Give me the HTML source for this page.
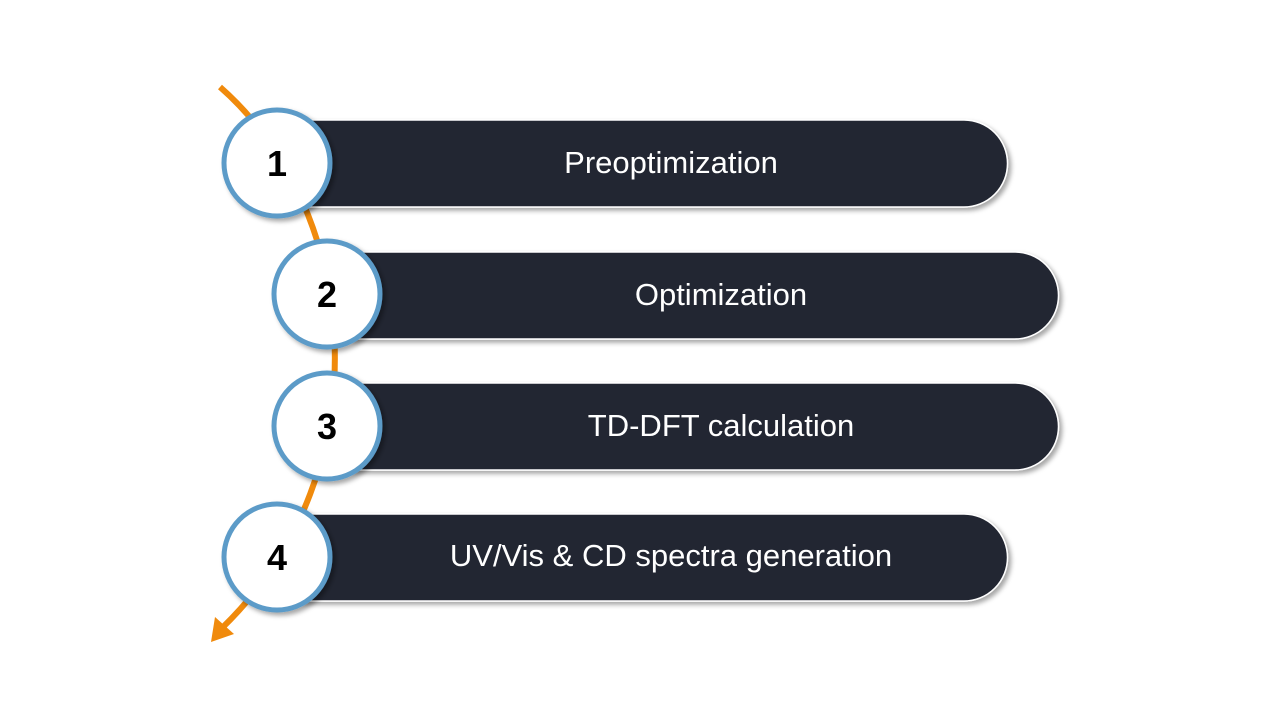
<!DOCTYPE html>
<html><head><meta charset="utf-8"><style>
html,body{margin:0;padding:0;background:#fff;}
svg{display:block}
</style></head><body>
<svg width="1280" height="720" viewBox="0 0 1280 720" xmlns="http://www.w3.org/2000/svg">
<defs>
<filter id="sh" x="-10%" y="-20%" width="130%" height="150%">
<feDropShadow dx="3" dy="3" stdDeviation="2.5" flood-color="#000" flood-opacity="0.35"/>
</filter>
</defs>
<path d="M220,87 C360,210 385,470 222,628" fill="none" stroke="#F08A0C" stroke-width="6"/>
<polygon points="211,642 215,617 234,634" fill="#F08A0C"/>
<g filter="url(#sh)" fill="#222531" stroke="#fff" stroke-width="1.5">
<path d="M300,120 H964 A43.5,43.5 0 0 1 964,207 H300 Z"/>
<path d="M350,252 H1015 A43.5,43.5 0 0 1 1015,339 H350 Z"/>
<path d="M350,383 H1015 A43.5,43.5 0 0 1 1015,470 H350 Z"/>
<path d="M300,514 H964 A43.5,43.5 0 0 1 964,601 H300 Z"/>
</g>
<g font-family="'Liberation Sans',sans-serif" font-size="31" fill="#fff" text-anchor="middle">
<text x="671" y="173">Preoptimization</text>
<text x="721" y="305">Optimization</text>
<text x="721" y="436">TD-DFT calculation</text>
<text x="671" y="566">UV/Vis &amp; CD spectra generation</text>
</g>
<g filter="url(#sh)" fill="#fff" stroke="#5B9BC8" stroke-width="5">
<circle cx="277" cy="163" r="53"/>
<circle cx="327" cy="294" r="53"/>
<circle cx="327" cy="426" r="53"/>
<circle cx="277" cy="557" r="53"/>
</g>
<g font-family="'Liberation Sans',sans-serif" font-size="36" font-weight="bold" fill="#000" text-anchor="middle">
<text x="277" y="176">1</text>
<text x="327" y="307">2</text>
<text x="327" y="439">3</text>
<text x="277" y="570">4</text>
</g>
</svg>
</body></html>
